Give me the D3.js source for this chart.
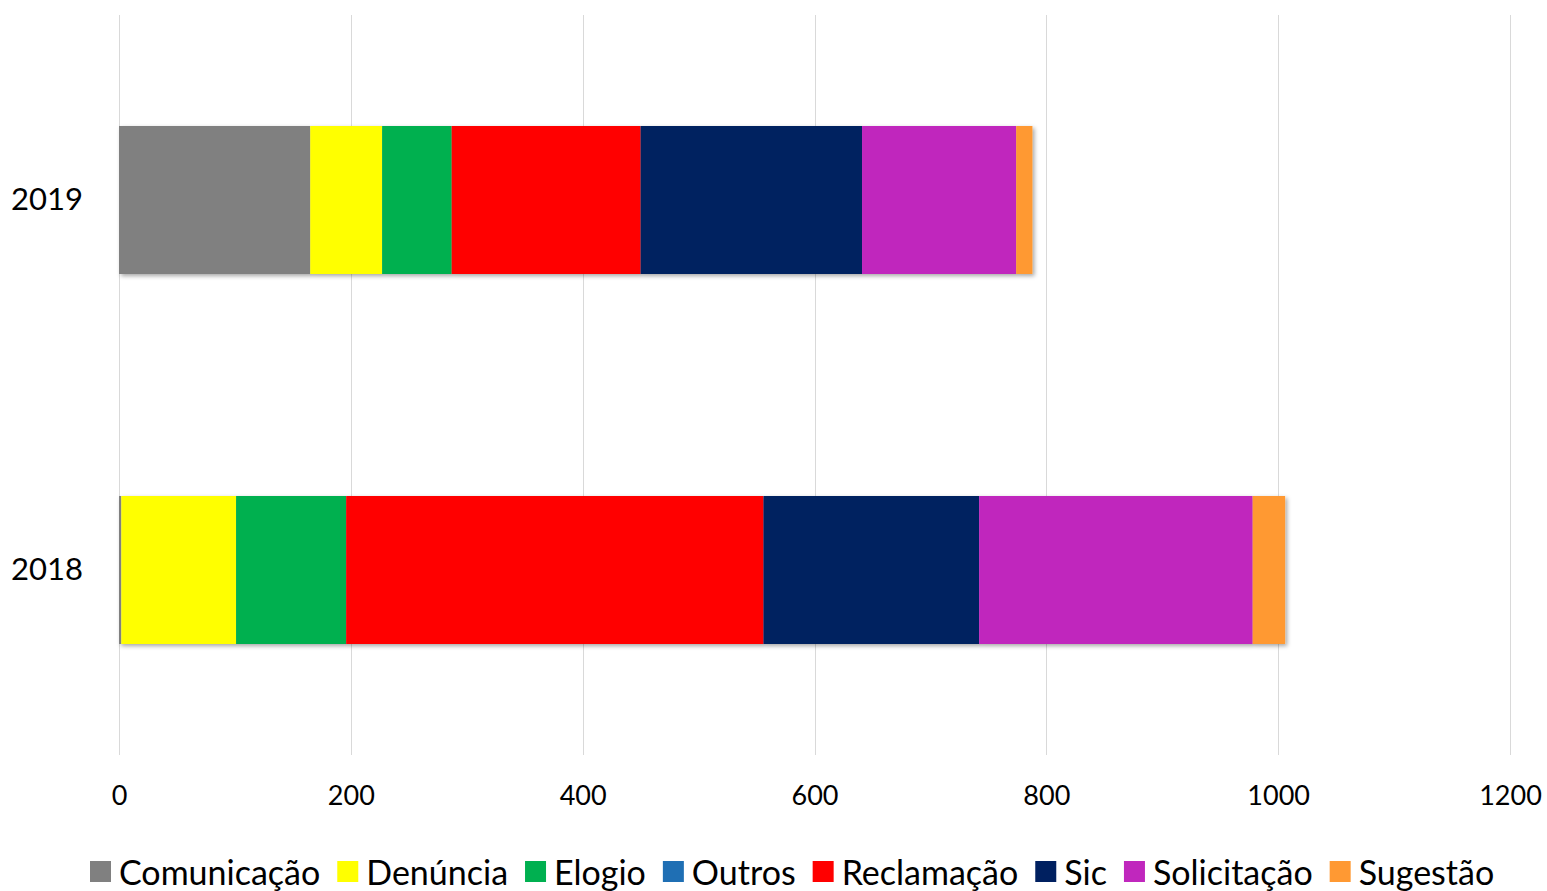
<!DOCTYPE html>
<html>
<head>
<meta charset="utf-8">
<script src="https://cdn.jsdelivr.net/npm/d3@7"></script>
<style>
body { margin: 0; background: #fff; }
text { font-family: Lato, "Open Sans", sans-serif; }
</style>
</head>
<body>
<svg id="chart" width="1547" height="891"></svg>
<script>

// categories (top to bottom) and series
var years = ["2019", "2018"];
var seriesNames = ["Comunicação", "Denúncia", "Elogio", "Outros", "Reclamação", "Sic", "Solicitação", "Sugestão"];
var seriesColors = ["#808080", "#ffff00", "#00b050", "#1f6fb4", "#ff0000", "#002060", "#c027bd", "#ff9933"];

// values per series, in the order of years
var comunicacao = [165, 2];
var denuncia = [62, 99];
var elogio = [60, 95];
var outros = [0, 0];
var reclamacao = [163, 360];
var sic = [191, 186];
var solicitacao = [133, 236];
var sugestao = [14, 28];

var xTicks = [0, 200, 400, 600, 800, 1000, 1200];

function renderChart(element) {

	var svg = d3.select(element);

	var margin = { top: 15, bottom: 136, left: 119, right: 37 };
	var width = +svg.attr("width");
	var height = +svg.attr("height");

	var allValues = [comunicacao, denuncia, elogio, outros, reclamacao, sic, solicitacao, sugestao];

	var rows = years.map(function(y, i) {
		var row = { year: y };
		seriesNames.forEach(function(s, j) { row[s] = allValues[j][i]; });
		return row;
	});

	var stacked = d3.stack().keys(seriesNames)(rows);

	var xScale = d3.scaleLinear()
		.domain([0, 1200])
		.range([margin.left, width - margin.right]);

	var yScale = d3.scaleBand()
		.domain(years)
		.range([margin.top, height - margin.bottom])
		.paddingInner(0.6)
		.paddingOuter(0.3);

	var defs = svg.append("defs");
	var filter = defs.append("filter").attr("id", "shadow")
		.attr("x", "-5%").attr("y", "-5%").attr("width", "115%").attr("height", "120%");
	filter.append("feDropShadow")
		.attr("dx", 2).attr("dy", 2).attr("stdDeviation", 2)
		.attr("flood-color", "#000").attr("flood-opacity", 0.35);

	// gridlines
	svg.append("g")
		.selectAll("line")
		.data(xTicks)
		.enter()
		.append("line")
		.attr("x1", d => Math.round(xScale(d)) + 0.5)
		.attr("x2", d => Math.round(xScale(d)) + 0.5)
		.attr("y1", margin.top)
		.attr("y2", height - margin.bottom)
		.attr("stroke", "#d9d9d9")
		.attr("stroke-width", 1);

	// bars
	var barGroups = svg.append("g").attr("class", "bars");

	years.forEach(function(y, i) {
		barGroups.append("g")
			.attr("filter", "url(#shadow)")
			.selectAll("rect")
			.data(stacked.map((s, j) => ({ key: s.key, color: seriesColors[j], v: s[i] })))
			.enter()
			.append("rect")
			.attr("x", d => xScale(d.v[0]))
			.attr("width", d => xScale(d.v[1]) - xScale(d.v[0]))
			.attr("y", yScale(y))
			.attr("height", yScale.bandwidth())
			.attr("fill", d => d.color);
	});

	// x axis labels
	var xAxis = d3.axisBottom(xScale).tickValues(xTicks).tickFormat(d3.format("d")).tickSize(0).tickPadding(0);
	var gx = svg.append("g")
		.attr("transform", "translate(0," + (height - margin.bottom) + ")")
		.call(xAxis);
	gx.select(".domain").remove();
	gx.selectAll("text")
		.attr("dy", 0)
		.attr("y", 50)
		.attr("font-size", 27)
		.attr("font-family", "Lato, 'Open Sans', sans-serif")
		.attr("fill", "#000");

	// y axis labels
	var yAxis = d3.axisLeft(yScale).tickSize(0).tickPadding(36);
	var gy = svg.append("g")
		.attr("transform", "translate(" + margin.left + ",0)")
		.call(yAxis);
	gy.select(".domain").remove();
	gy.selectAll("text")
		.attr("font-size", 31)
		.attr("font-family", "Lato, 'Open Sans', sans-serif")
		.attr("fill", "#000");

	// legend
	var legend = svg.append("g").attr("class", "legend");
	var lx = 90;
	var ly = 871;
	seriesNames.forEach(function(s, j) {
		legend.append("rect")
			.attr("x", lx)
			.attr("y", ly - 10)
			.attr("width", 21)
			.attr("height", 21)
			.attr("fill", seriesColors[j]);
		var t = legend.append("text")
			.attr("x", lx + 29)
			.attr("y", ly)
			.attr("dominant-baseline", "central")
			.attr("font-size", 34)
			.attr("fill", "#000")
			.text(s);
		lx += 29 + t.node().getComputedTextLength() + 17;
	});

}

renderChart("#chart");
</script>
</body>
</html>
